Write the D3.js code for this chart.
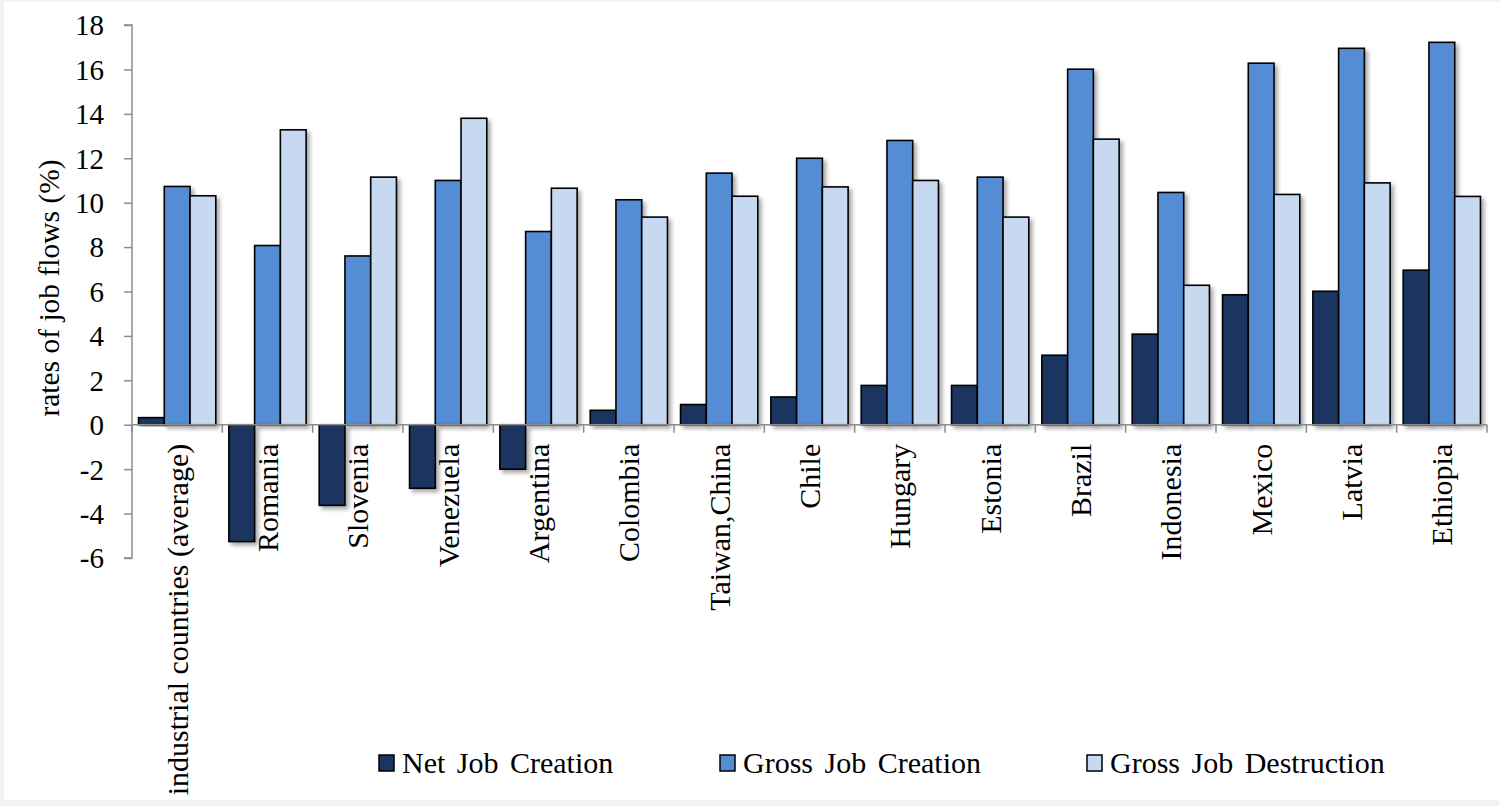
<!DOCTYPE html>
<html><head><meta charset="utf-8">
<script src="https://cdn.jsdelivr.net/npm/d3@7"></script>
<style>
html,body{margin:0;padding:0;background:#f2f2f2;}
svg{display:block;}
text{font-family:"Liberation Serif","Times New Roman",serif;fill:#000;}
</style></head>
<body>
<svg id="chart" width="1499" height="806"></svg>
<script>
const categories = ["industrial countries (average)","Romania","Slovenia","Venezuela","Argentina","Colombia","Taiwan,China","Chile","Hungary","Estonia","Brazil","Indonesia","Mexico","Latvia","Ethiopia"];
const netJobCreation = [0.32,-5.26,-3.63,-2.86,-2.0,0.65,0.91,1.25,1.77,1.77,3.13,4.08,5.85,6.01,6.96];
const grossJobCreation = [10.73,8.07,7.6,11.0,8.7,10.13,11.33,12.0,12.8,11.15,16.01,10.46,16.28,16.95,17.22];
const grossJobDestruction = [10.31,13.28,11.15,13.8,10.65,9.35,10.29,10.71,11.0,9.35,12.86,6.28,10.37,10.89,10.28];
const seriesNames = ["Net Job Creation","Gross Job Creation","Gross Job Destruction"];
const seriesColors = ["#1a3660","#548dd4","#c6d9f1"];
const yTicks = [-6,-4,-2,0,2,4,6,8,10,12,14,16,18];
const yTitle = "rates of job flows (%)";

(function(){
const series = [netJobCreation, grossJobCreation, grossJobDestruction];
const svg = d3.select("#chart");
svg.append("rect").attr("x",4).attr("y",2).attr("width",1495).attr("height",798).attr("fill","#fff");

const defs = svg.append("defs");
const f = defs.append("filter").attr("id","shadow").attr("x","-20%").attr("y","-20%").attr("width","150%").attr("height","150%");
f.append("feDropShadow").attr("dx",3).attr("dy",3).attr("stdDeviation",2).attr("flood-color","#000").attr("flood-opacity",0.35);

const mLeft = 132, mRight = 1487, mTop = 25, mBottom = 558;
const y = d3.scaleLinear().domain([-6,18]).range([mBottom, mTop]);
const x0 = d3.scaleBand().domain(categories).range([mLeft, mRight]).paddingInner(0.145).paddingOuter(0.0725);
const x1 = d3.scaleBand().domain([0,1,2]).range([0, x0.bandwidth()]);

// bars
const g = svg.append("g");
categories.forEach((c, i) => {
  series.forEach((s, j) => {
    const v = s[i];
    g.append("rect")
      .attr("x", x0(c) + x1(j))
      .attr("y", y(Math.max(0, v)))
      .attr("width", x1.bandwidth())
      .attr("height", Math.abs(y(v) - y(0)))
      .attr("fill", seriesColors[j])
      .attr("stroke", "#000")
      .attr("stroke-width", 1.6)
      .attr("filter", "url(#shadow)");
  });
});

// y axis
const yAxis = d3.axisLeft(y).tickValues(yTicks).tickSize(8).tickPadding(20).tickFormat(d => String(d));
const ya = svg.append("g").attr("transform", `translate(${mLeft},0)`).call(yAxis);
ya.select(".domain").attr("stroke","#8c8c8c").attr("stroke-width",1.5).attr("d",`M-8,${mTop}H0V${mBottom}H-8`);
ya.selectAll(".tick line").attr("stroke","#8c8c8c").attr("stroke-width",1.5);
ya.selectAll(".tick text").style("font-family",'"Liberation Serif","Times New Roman",serif').style("font-size","29px").attr("fill","#000").attr("dy","0.34em");

// zero line with category boundary ticks
const xa = svg.append("g");
xa.append("line").attr("x1",mLeft).attr("x2",mRight).attr("y1",y(0)).attr("y2",y(0)).attr("stroke","#8c8c8c").attr("stroke-width",1.5);
const step = x0.step();
d3.range(categories.length + 1).forEach(k => {
  const xx = mLeft + k * step;
  xa.append("line").attr("x1",xx).attr("x2",xx).attr("y1",y(0)).attr("y2",y(0)+8).attr("stroke","#8c8c8c").attr("stroke-width",1.5);
});

// category labels
categories.forEach((c) => {
  const cx = x0(c) + x0.bandwidth()/2;
  svg.append("text")
    .attr("transform", `translate(${cx},${y(0)+19}) rotate(-90)`)
    .attr("text-anchor","end")
    .attr("dy","0.35em")
    .style("font-size","30px")
    .text(c);
});

// y title
svg.append("text")
  .attr("transform", `translate(59,288) rotate(-90)`)
  .attr("text-anchor","middle")
  .style("font-size","29.5px")
  .text(yTitle);

// legend
const legendX = [379, 720, 1087];
seriesNames.forEach((n, j) => {
  svg.append("rect").attr("x",legendX[j]).attr("y",755).attr("width",15).attr("height",16)
    .attr("fill",seriesColors[j]).attr("stroke","#000").attr("stroke-width",1.5);
  svg.append("text").attr("x",legendX[j]+23).attr("y",773).style("font-size","30px").style("word-spacing","4px").text(n);
});
})();
</script>
</body></html>
